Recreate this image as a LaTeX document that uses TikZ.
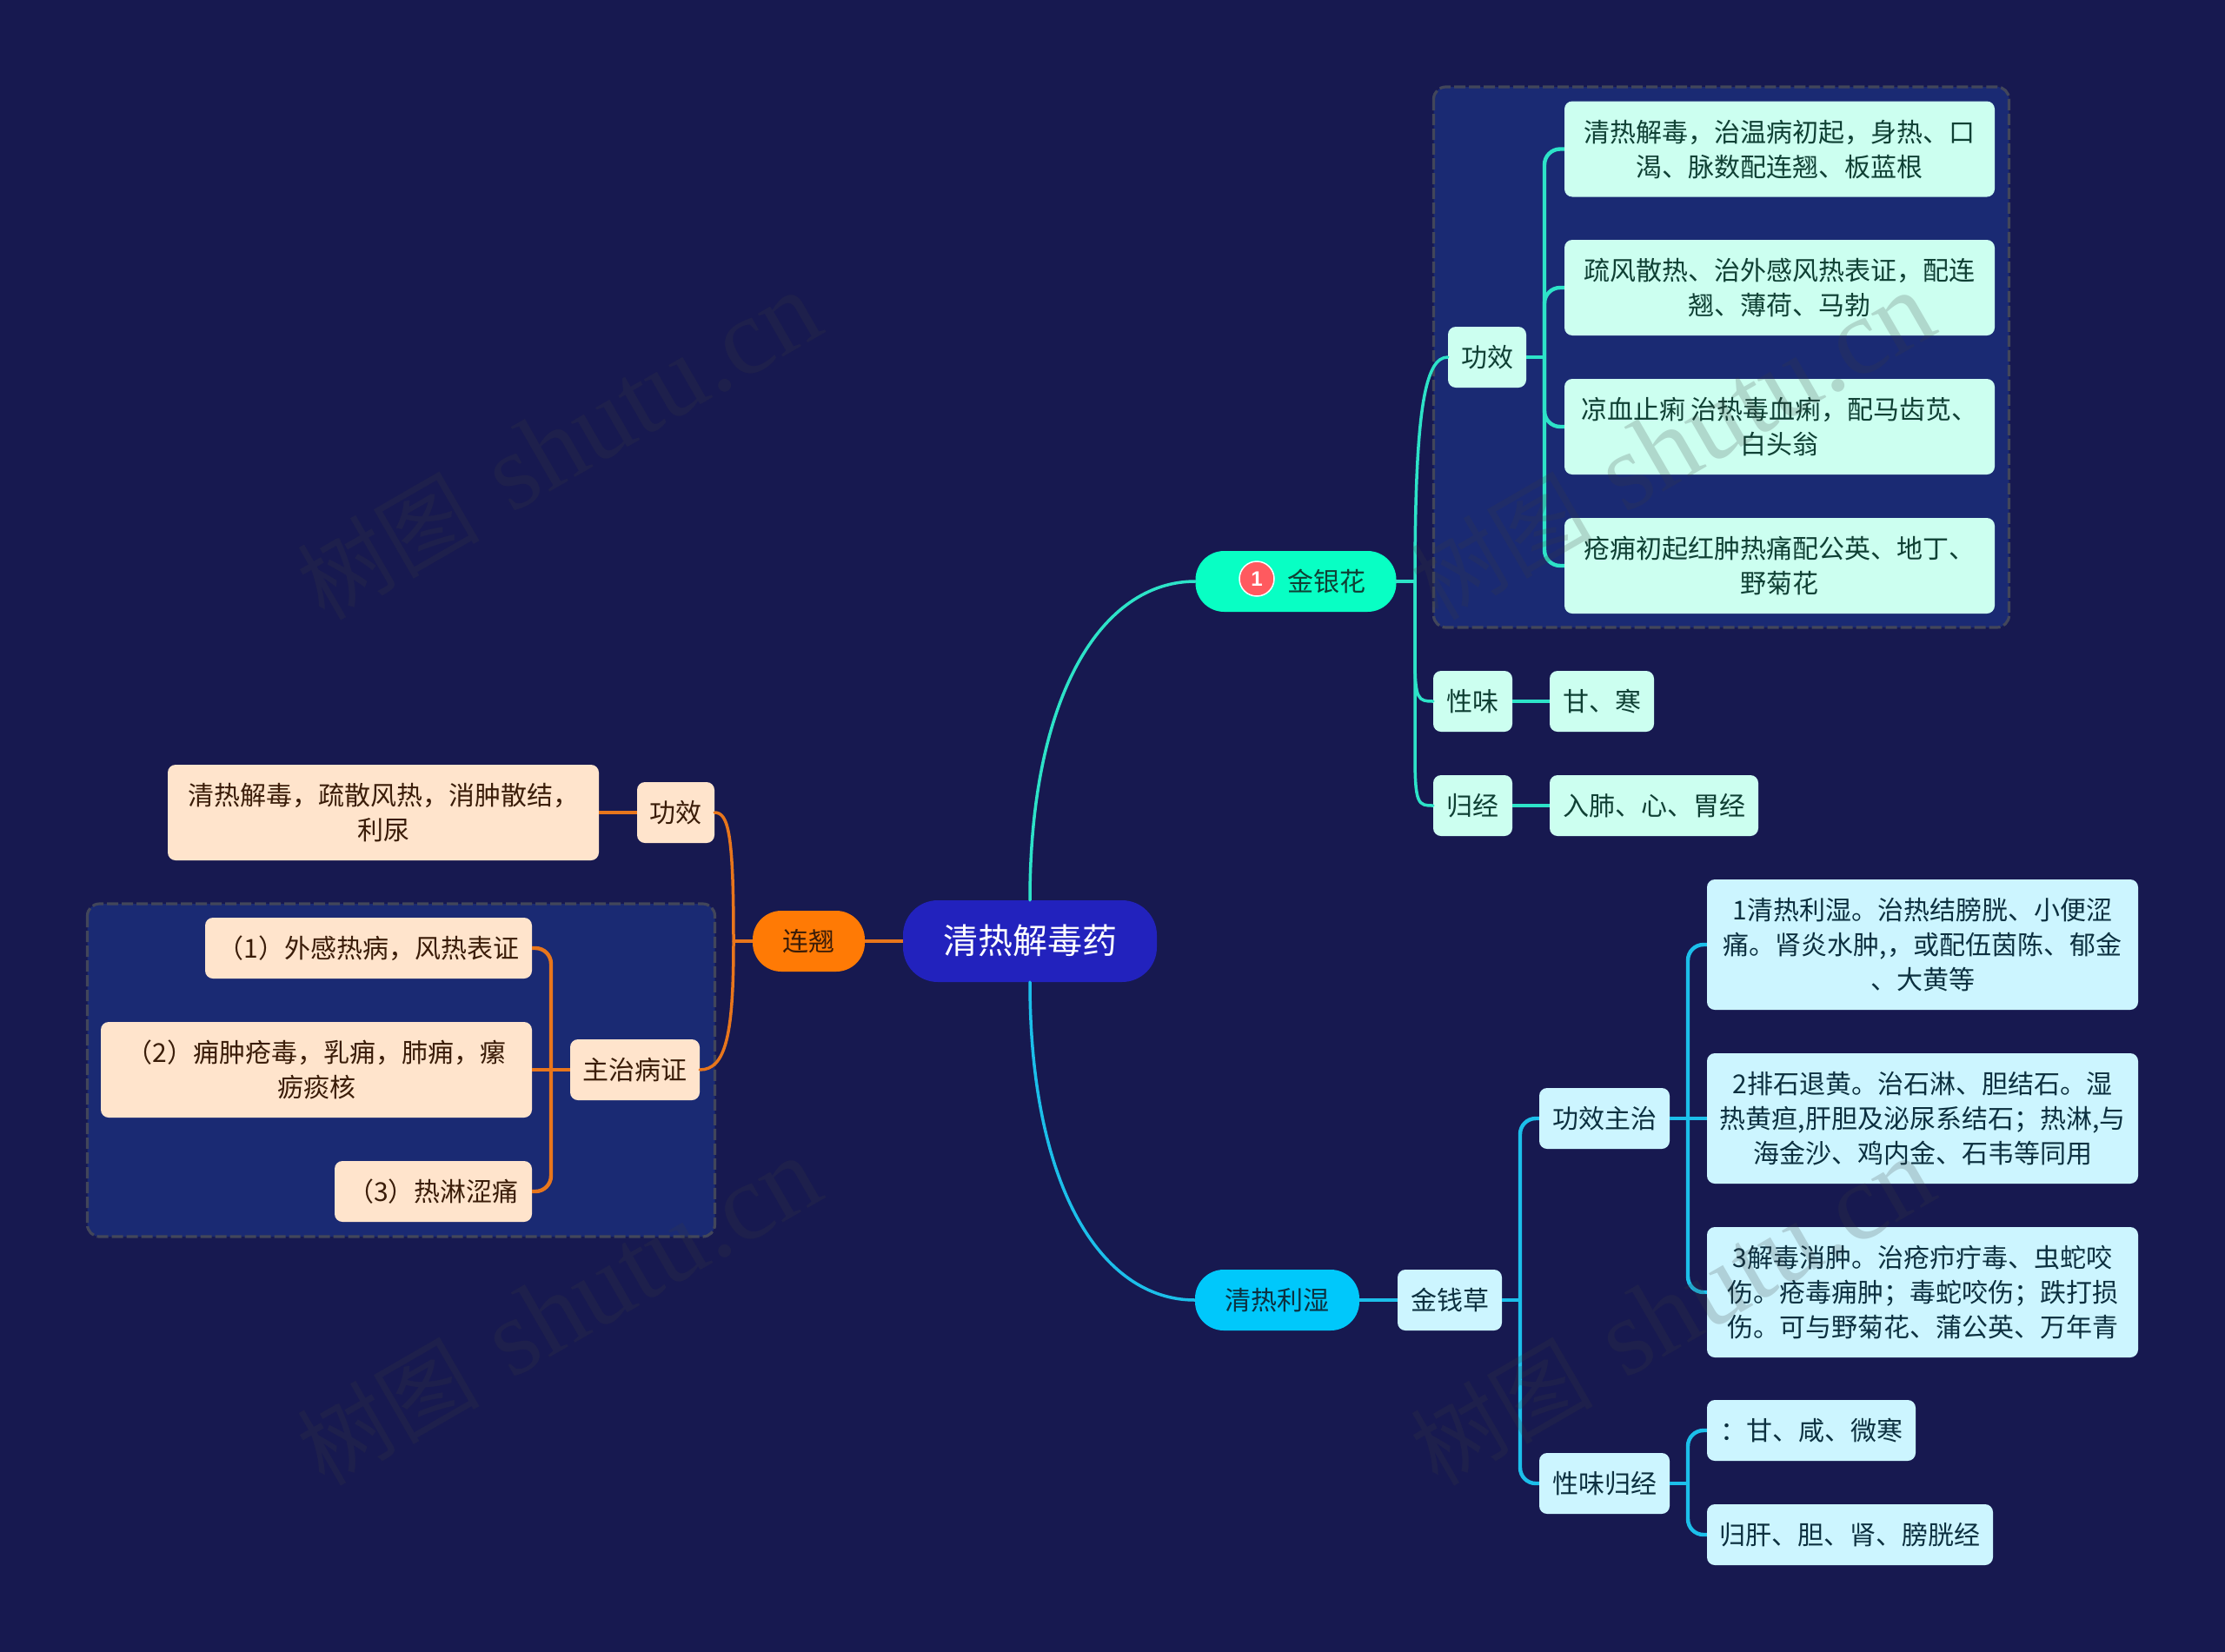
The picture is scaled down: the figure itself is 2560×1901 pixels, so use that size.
\documentclass[tikz,border=0pt]{standalone}
\usepackage{fontspec}
\setmainfont{Noto Sans CJK SC}
\newfontfamily\wmserif{Liberation Serif}
\newfontfamily\bdgfont{Liberation Sans}
\usetikzlibrary{calc}
\newcommand\tx[1]{\vbox{\kern7.2pt\hbox{\begin{tabular}{@{}c@{}}#1\end{tabular}}}}
\newcommand\wmtext{{\fontsize{105}{110}\selectfont 树图}\kern38pt{\wmserif\fontsize{125}{130}\selectfont shutu.cn}}
\definecolor{bgc}{HTML}{171950}
\definecolor{grpc}{HTML}{1A2A73}
\definecolor{grpb}{HTML}{42465A}
\definecolor{mintc}{HTML}{CCFFF0}
\definecolor{mintt}{HTML}{0F4034}
\definecolor{minth}{HTML}{08FFC4}
\definecolor{mintl}{HTML}{2DE3C8}
\definecolor{bluec}{HTML}{CCF5FF}
\definecolor{bluet}{HTML}{0C3040}
\definecolor{blueh}{HTML}{00C8FB}
\definecolor{bluel}{HTML}{1CBFEA}
\definecolor{peac}{HTML}{FFE4CC}
\definecolor{peat}{HTML}{3A1C08}
\definecolor{orah}{HTML}{FF7A05}
\definecolor{oral}{HTML}{E8761C}
\definecolor{rootc}{HTML}{2222BD}
\definecolor{badge}{HTML}{FF5A5F}
\definecolor{wmc}{HTML}{3C3C3C}
\tikzset{
  x=1pt,y=-1pt,
  sz/.style 2 args={minimum width=#1pt,minimum height=#2pt},
  mb/.style={inner sep=0pt,rounded corners=9pt,font=\fontsize{30}{40}\selectfont},
  minta/.style={mb,fill=mintc,text=mintt},
  bluea/.style={mb,fill=bluec,text=bluet},
  peaa/.style={mb,fill=peac,text=peat},
  pill/.style={inner sep=0pt,rounded corners=33pt,font=\fontsize{30}{40}\selectfont},
  grp/.style={fill=grpc,draw=grpb,line width=3.2pt,dash pattern=on 13pt off 4pt,rounded corners=14pt},
  trunk/.style={line width=3.5pt,line cap=round},
  bran/.style={line width=4.4pt,rounded corners=18pt},
  wm/.style={text=wmc,opacity=.2,rotate=30,inner sep=0pt}
}
\begin{document}
\begin{tikzpicture}
\useasboundingbox (0,0) rectangle (2560,1901);
\fill[bgc] (0,0) rectangle (2560,1901);
% group panels
\draw[grp] (1649.5,100) rectangle (2311.5,722);
\draw[grp] (100.5,1040) rectangle (822.5,1423);
% nodes
\node[pill,fill=rootc,text=white,sz={292}{94},rounded corners=40pt,font=\fontsize{40}{50}\selectfont] (root) at (1185,1083) {\tx{\raisebox{-1pt}{清热解毒药}}};
% top right
\node[pill,fill=minth,text=mintt,sz={231}{70}] (jyh) at (1491,669) {\tx{\hspace*{70pt}金银花}};
\node[circle,fill=badge,draw=white,line width=1.5pt,inner sep=0pt,minimum size=40pt,text=white,font=\bdgfont\bfseries\fontsize{24}{26}\selectfont] (bdg) at (1446,666) {1};
\node[minta,sz={90}{70}] (ga) at (1711,411) {\tx{功效}};
\node[minta,sz={495}{110}] (ga1) at (2047.5,171.5) {\tx{清热解毒，治温病初起，身热、口\\渴、脉数配连翘、板蓝根}};
\node[minta,sz={495}{110}] (ga2) at (2047.5,331) {\tx{疏风散热、治外感风热表证，配连\\翘、薄荷、马勃}};
\node[minta,sz={495}{110}] (ga3) at (2047.5,491) {\tx{凉血止痢 治热毒血痢，配马齿苋、\\白头翁}};
\node[minta,sz={495}{110}] (ga4) at (2047.5,651) {\tx{疮痈初起红肿热痛配公英、地丁、\\野菊花}};
\node[minta,sz={91}{70}] (xw) at (1694.5,807) {\tx{性味}};
\node[minta,sz={120}{70}] (gh) at (1843,807) {\tx{甘、寒}};
\node[minta,sz={91}{70}] (gj) at (1694.5,927) {\tx{归经}};
\node[minta,sz={240}{70}] (rf) at (1903,927) {\tx{入肺、心、胃经}};
% left
\node[pill,fill=orah,text=peat,sz={129}{70}] (lq) at (930.5,1083) {\tx{连翘}};
\node[peaa,sz={89}{70}] (lg) at (777.5,935) {\tx{功效}};
\node[peaa,sz={496}{110}] (lgt) at (441,935) {\tx{清热解毒，疏散风热，消肿散结，\\利尿}};
\node[peaa,sz={149}{70}] (zz) at (730.5,1231) {\tx{主治病证}};
\node[peaa,sz={376}{70}] (la) at (424,1091) {\tx{（1）外感热病，风热表证}};
\node[peaa,sz={496}{110}] (lb) at (364,1231) {\tx{（2）痈肿疮毒，乳痈，肺痈，瘰\\疬痰核}};
\node[peaa,sz={227}{70}] (lc) at (498.5,1371) {\tx{（3）热淋涩痛}};
% bottom right
\node[pill,fill=blueh,text=bluet,sz={189}{70}] (rl) at (1469.5,1496) {\tx{清热利湿}};
\node[bluea,sz={120}{70}] (jq) at (1668,1496) {\tx{金钱草}};
\node[bluea,sz={150}{70}] (gz) at (1846,1287) {\tx{功效主治}};
\node[bluea,sz={150}{70}] (xg) at (1846,1707) {\tx{性味归经}};
\node[bluea,sz={496}{150}] (ba) at (2212,1087) {\tx{1清热利湿。治热结膀胱、小便涩\\痛。肾炎水肿,，或配伍茵陈、郁金\\、大黄等}};
\node[bluea,sz={496}{150}] (bb) at (2212,1287) {\tx{2排石退黄。治石淋、胆结石。湿\\热黄疸,肝胆及泌尿系结石；热淋,与\\海金沙、鸡内金、石韦等同用}};
\node[bluea,sz={496}{150}] (bc) at (2212,1487) {\tx{3解毒消肿。治疮疖疔毒、虫蛇咬\\伤。疮毒痈肿；毒蛇咬伤；跌打损\\伤。可与野菊花、蒲公英、万年青}};
\node[bluea,sz={240}{70}] (bd) at (2084,1646) {\tx{：甘、咸、微寒}};
\node[bluea,sz={329}{70}] (be) at (2128.5,1766) {\tx{归肝、胆、肾、膀胱经}};
% routing coordinates
\coordinate (tr1) at (1628,669);
\coordinate (br1) at (1777,411);
\coordinate (tr2) at (844,1083);
\coordinate (br2) at (634,1231);
\coordinate (tr3) at (1749,1496);
\coordinate (br3) at (1942,1287);
\coordinate (br4) at (1942,1707);
% root curves
\draw[mintl,trunk] (root.north) .. controls +(0,-235) and +(-108,0) .. (jyh.west);
\draw[bluel,trunk] (root.south) .. controls +(0,235) and +(-108,0) .. (rl.west);
\draw[oral,line width=4pt] (root.west) -- (lq.east);
% jinyinhua
\draw[mintl,trunk] (jyh.east) -- (tr1);
\draw[mintl,trunk] (tr1) .. controls +(0,-199) and +(-26,0) .. (ga.west);
\draw[mintl,trunk] (tr1) -- +(0,90) .. controls +(0,46) and +(-17,0) .. (xw.west);
\draw[mintl,trunk] (tr1) -- +(0,200) .. controls +(0,57) and +(-17,0) .. (gj.west);
\draw[mintl,line width=4pt] (ga.east) -- (br1);
\draw[mintl,bran] (ga1.west) -- (br1 |- ga1.west) -- (br1 |- ga4.west) -- (ga4.west);
\draw[mintl,bran] (ga2.west) -- (br1 |- ga2.west) -- (br1 |- ga3.west) -- (ga3.west);
\draw[mintl,line width=3.5pt] (xw.east) -- (gh.west);
\draw[mintl,line width=3.5pt] (gj.east) -- (rf.west);
% lianqiao
\draw[oral,line width=4pt] (lq.west) -- (tr2);
\draw[oral,trunk] (tr2) .. controls +(0,-123) and +(16,0) .. (lg.east);
\draw[oral,trunk] (tr2) .. controls +(0,107) and +(30,0) .. (zz.east);
\draw[oral,line width=4.4pt] (lg.west) -- (lgt.east);
\draw[oral,line width=4.4pt] (zz.west) -- (lb.east);
\draw[oral,bran] (la.east) -- (br2 |- la.east) -- (br2 |- lc.east) -- (lc.east);
% bottom branch
\draw[bluel,line width=4pt] (rl.east) -- (jq.west);
\draw[bluel,line width=4pt] (jq.east) -- (tr3);
\draw[bluel,bran] (gz.west) -- (tr3 |- gz.west) -- (tr3 |- xg.west) -- (xg.west);
\draw[bluel,line width=4.4pt] (gz.east) -- (bb.west);
\draw[bluel,bran] (ba.west) -- (br3 |- ba.west) -- (br3 |- bc.west) -- (bc.west);
\draw[bluel,line width=4.4pt] (xg.east) -- (br4);
\draw[bluel,bran] (bd.west) -- (br4 |- bd.west) -- (br4 |- be.west) -- (be.west);
% watermarks
\node[wm] (w1) at (643,514) {\wmtext};
\node[wm] (w2) at (643,1510) {\wmtext};
\node[wm] (w3) at (1924,514) {\wmtext};
\node[wm] (w4) at (1924,1510) {\wmtext};
\end{tikzpicture}
\end{document}
